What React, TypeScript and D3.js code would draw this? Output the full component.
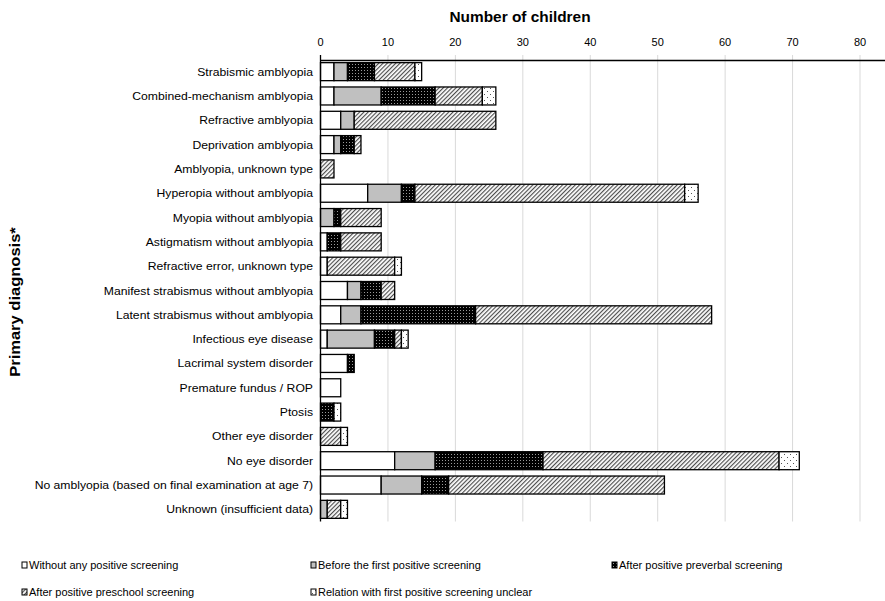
import React from 'react';
import * as d3 from 'd3';

const categories = [
  'Strabismic amblyopia',
  'Combined-mechanism amblyopia',
  'Refractive amblyopia',
  'Deprivation amblyopia',
  'Amblyopia, unknown type',
  'Hyperopia without amblyopia',
  'Myopia without amblyopia',
  'Astigmatism without amblyopia',
  'Refractive error, unknown type',
  'Manifest strabismus without amblyopia',
  'Latent strabismus without amblyopia',
  'Infectious eye disease',
  'Lacrimal system disorder',
  'Premature fundus / ROP',
  'Ptosis',
  'Other eye disorder',
  'No eye disorder',
  'No amblyopia (based on final examination at age 7)',
  'Unknown (insufficient data)',
];

const seriesNames = [
  'Without any positive screening',
  'Before the first positive screening',
  'After positive preverbal screening',
  'After positive preschool screening',
  'Relation with first positive screening unclear',
];

const withoutAny = [2, 2, 3, 2, 0, 7, 0, 1, 1, 4, 3, 1, 4, 3, 0, 0, 11, 9, 0];
const beforeFirst = [2, 7, 2, 1, 0, 5, 2, 0, 0, 2, 3, 7, 0, 0, 0, 0, 6, 6, 1];
const afterPreverbal = [4, 8, 0, 2, 0, 2, 1, 2, 0, 3, 17, 3, 1, 0, 2, 0, 16, 4, 0];
const afterPreschool = [6, 7, 21, 1, 2, 40, 6, 6, 10, 2, 35, 1, 0, 0, 0, 3, 35, 32, 2];
const unclear = [1, 2, 0, 0, 0, 2, 0, 0, 1, 0, 0, 1, 0, 0, 1, 1, 3, 0, 1];

const xTicks = [0, 10, 20, 30, 40, 50, 60, 70, 80];

const fills = ['#ffffff', '#c0c0c0', 'url(#pBlack)', 'url(#pHatch)', 'url(#pDots)'];

const W = 885;
const H = 601;

export default function App() {
  const rows = categories.map((c, i) => ({
    cat: c,
    s0: withoutAny[i],
    s1: beforeFirst[i],
    s2: afterPreverbal[i],
    s3: afterPreschool[i],
    s4: unclear[i],
  }));
  const keys = ['s0', 's1', 's2', 's3', 's4'];
  const stacked = d3.stack<any>().keys(keys)(rows);

  const x = d3.scaleLinear().domain([0, 80]).range([320.5, 860]);
  const y = d3
    .scaleBand<string>()
    .domain(categories)
    .range([59.5, 521.5])
    .paddingInner(0.26)
    .paddingOuter(0.13);

  const font = 'Arial, "Liberation Sans", sans-serif';
  const legendPos = [
    { x: 22, y: 565 },
    { x: 311, y: 565 },
    { x: 612, y: 565 },
    { x: 22, y: 592 },
    { x: 311, y: 592 },
  ];

  return (
    <svg
      width={W}
      height={H}
      style={{ position: 'absolute', left: 0, top: 0, background: '#fff' }}
      fontFamily={font}
    >
      <defs>
        <pattern id="pBlack" width="3" height="3" patternUnits="userSpaceOnUse">
          <rect width="3" height="3" fill="#000" />
          <rect x="1" y="1" width="1" height="1" fill="#9a9a9a" />
        </pattern>
        <pattern
          id="pHatch"
          width="3"
          height="3"
          patternUnits="userSpaceOnUse"
          patternTransform="rotate(45)"
        >
          <rect width="3" height="3" fill="#fff" />
          <line x1="0.6" y1="0" x2="0.6" y2="3" stroke="#444" strokeWidth="1.1" />
        </pattern>
        <pattern id="pDots" width="6" height="6" patternUnits="userSpaceOnUse">
          <rect width="6" height="6" fill="#fff" />
          <rect x="1" y="1" width="1" height="1" fill="#555" />
          <rect x="4" y="4" width="1" height="1" fill="#555" />
        </pattern>
      </defs>

      {/* gridlines */}
      {xTicks.slice(1).map((t) => (
        <line
          key={'g' + t}
          x1={x(t)}
          x2={x(t)}
          y1={55}
          y2={521.5}
          stroke="#d9d9d9"
          strokeWidth={1}
        />
      ))}

      {/* bars */}
      {stacked.map((layer, si) =>
        layer.map((d, i) => {
          const w = x(d[1]) - x(d[0]);
          if (w <= 0.01) return null;
          return (
            <rect
              key={si + '-' + i}
              x={x(d[0])}
              y={y(categories[i])}
              width={w}
              height={y.bandwidth()}
              fill={fills[si]}
              stroke="#000"
              strokeWidth={1.3}
            />
          );
        })
      )}

      {/* axes */}
      <line x1={320.5} x2={885} y1={60.5} y2={60.5} stroke="#000" strokeWidth={1.3} />
      <line x1={320.5} x2={320.5} y1={55} y2={521.5} stroke="#000" strokeWidth={1.3} />
      {xTicks.map((t) => (
        <text
          key={'t' + t}
          x={x(t)}
          y={46}
          textAnchor="middle"
          fontSize={11}
          fill="#000"
        >
          {t}
        </text>
      ))}
      <g transform="translate(520,22) scale(1.1,1)">
        <text x={0} y={0} textAnchor="middle" fontSize={14} fontWeight="bold" fill="#000">
          Number of children
        </text>
      </g>

      {/* category labels */}
      {categories.map((c) => (
        <g
          key={c}
          transform={`translate(313,${(y(c) as number) + y.bandwidth() / 2}) scale(1.06,1)`}
        >
          <text x={0} y={0} dy="0.35em" textAnchor="end" fontSize={11.5} fill="#000">
            {c}
          </text>
        </g>
      ))}

      <g transform="translate(20,302) rotate(-90) scale(1.18,1)">
        <text x={0} y={0} textAnchor="middle" fontSize={14} fontWeight="bold" fill="#000">
          Primary diagnosis*
        </text>
      </g>

      {/* legend */}
      {seriesNames.map((n, i) => (
        <g key={n} transform={`translate(${legendPos[i].x},${legendPos[i].y})`}>
          <rect x={0} y={-3} width={5} height={6} fill={fills[i]} stroke="#000" strokeWidth={1} />
          <g transform="translate(7,0) scale(1.05,1)">
            <text x={0} y={0} dy="0.35em" fontSize={10.5} fill="#000">
              {n}
            </text>
          </g>
        </g>
      ))}
    </svg>
  );
}
